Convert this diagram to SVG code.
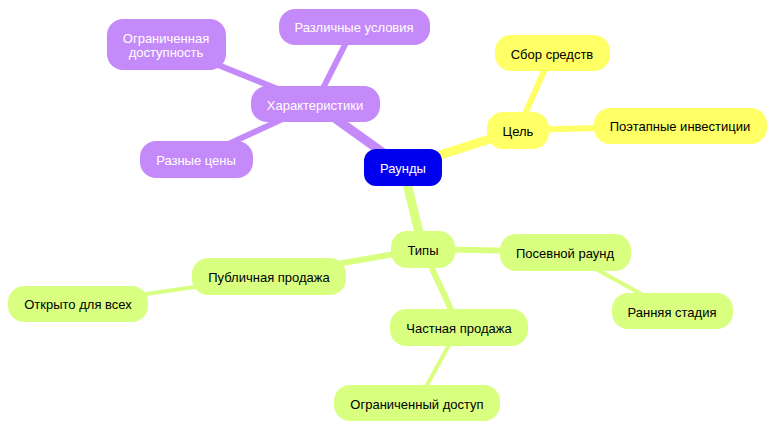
<svg xmlns="http://www.w3.org/2000/svg" width="784" height="435" viewBox="0 0 784 435">
<style>
text{font-family:"Liberation Sans",Arial,sans-serif;font-size:13px;text-anchor:middle;dominant-baseline:central}
.p rect{fill:#c58af9}.p text{fill:#fff}
.y rect{fill:#ffff66}.g rect{fill:#d9ff80}
.e line{stroke-linecap:round}
.ep{stroke:#c58af9}.ey{stroke:#ffff66}.eg{stroke:#d9ff80}
</style>
<rect width="784" height="435" fill="#fff"/>
<g id="connectors" class="e">
<line class="ep" x1="403" y1="167" x2="315" y2="104" stroke-width="9"/>
<line class="ep" x1="315" y1="104" x2="354" y2="27" stroke-width="6"/>
<line class="ep" x1="315" y1="104" x2="166" y2="44" stroke-width="6"/>
<line class="ep" x1="315" y1="104" x2="196" y2="159" stroke-width="6"/>
<line class="ey" x1="403" y1="167" x2="518" y2="130" stroke-width="9"/>
<line class="ey" x1="518" y1="130" x2="552" y2="53" stroke-width="6"/>
<line class="ey" x1="518" y1="130" x2="680" y2="126" stroke-width="6"/>
<line class="eg" x1="403" y1="167" x2="423" y2="249" stroke-width="9"/>
<line class="eg" x1="423" y1="249" x2="565" y2="252" stroke-width="6"/>
<line class="eg" x1="565" y1="252" x2="672" y2="311" stroke-width="4"/>
<line class="eg" x1="423" y1="249" x2="269" y2="276" stroke-width="6"/>
<line class="eg" x1="269" y1="276" x2="78" y2="304" stroke-width="4"/>
<line class="eg" x1="423" y1="249" x2="459" y2="327" stroke-width="6"/>
<line class="eg" x1="459" y1="327" x2="417" y2="403" stroke-width="4"/>
</g>
<g id="n-raundy"><rect x="364" y="149" width="78" height="37" rx="12" fill="#0000ee"/><text x="403" y="168" fill="#fff">Раунды</text></g>
<g id="n-har" class="p"><rect x="251" y="86" width="129" height="36" rx="16"/><text x="315" y="105">Характеристики</text></g>
<g id="n-usl" class="p"><rect x="279" y="9" width="151" height="36" rx="16"/><text x="354" y="27">Различные условия</text></g>
<g id="n-ogr" class="p"><rect x="107" y="19" width="119" height="51" rx="16"/><text x="166" y="38">Ограниченная</text><text x="166" y="52">доступность</text></g>
<g id="n-ceny" class="p"><rect x="140" y="141" width="113" height="37" rx="16"/><text x="196" y="160">Разные цены</text></g>
<g id="n-cel" class="y"><rect x="487" y="112" width="62" height="37" rx="16"/><text x="518" y="131">Цель</text></g>
<g id="n-sbor" class="y"><rect x="495" y="35" width="115" height="36" rx="16"/><text x="552" y="54">Сбор средств</text></g>
<g id="n-poet" class="y"><rect x="594" y="108" width="173" height="36" rx="16"/><text x="680" y="126">Поэтапные инвестиции</text></g>
<g id="n-tipy" class="g"><rect x="391" y="231" width="64" height="37" rx="16"/><text x="423" y="250">Типы</text></g>
<g id="n-posev" class="g"><rect x="500" y="234" width="131" height="37" rx="16"/><text x="565" y="253">Посевной раунд</text></g>
<g id="n-rann" class="g"><rect x="612" y="293" width="121" height="36" rx="16"/><text x="672" y="312">Ранняя стадия</text></g>
<g id="n-publ" class="g"><rect x="192" y="258" width="154" height="37" rx="16"/><text x="269" y="277">Публичная продажа</text></g>
<g id="n-otkr" class="g"><rect x="8" y="286" width="140" height="36" rx="16"/><text x="78" y="304">Открыто для всех</text></g>
<g id="n-chast" class="g"><rect x="390" y="309" width="138" height="37" rx="16"/><text x="459" y="328">Частная продажа</text></g>
<g id="n-dost" class="g"><rect x="334" y="385" width="166" height="36" rx="16"/><text x="417" y="404">Ограниченный доступ</text></g>
</svg>
